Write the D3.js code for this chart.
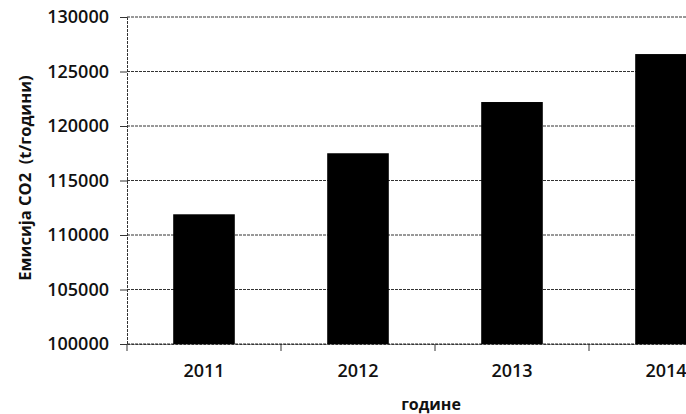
<!DOCTYPE html>
<html>
<head>
<meta charset="utf-8">
<script src="https://cdn.jsdelivr.net/npm/d3@7"></script>
<style>
  html, body { margin: 0; padding: 0; background: #fff; }
  svg { display: block; }
  text { font-family: "Open Sans", "DejaVu Sans", sans-serif; fill: #111; }
</style>
</head>
<body>
<svg id="chart" width="686" height="414"></svg>
<script>
const categories = ["2011", "2012", "2013", "2014"];
const values = [111900, 117500, 122200, 126600];
const yTicks = [100000, 105000, 110000, 115000, 120000, 125000, 130000];
const yTitle = "Емисија CO2  (t/години)";
const xTitle = "године";

(function () {
const svg = d3.select("#chart");
const mLeft = 127, mTop = 17, mBottom = 344, mRight = 743;

const x = d3.scaleBand().domain(categories).range([mLeft, mRight]).paddingInner(0.6).paddingOuter(0.3);
const y = d3.scaleLinear().domain([100000, 130000]).range([mBottom, mTop]);

// gridlines
svg.append("g").selectAll("line").data(yTicks).join("line")
  .attr("x1", mLeft).attr("x2", mRight)
  .attr("y1", d => y(d)).attr("y2", d => y(d))
  .attr("stroke", "#333").attr("stroke-width", 1)
  .attr("stroke-dasharray", "3,1");

// bars
svg.append("g").selectAll("rect").data(categories).join("rect")
  .attr("x", d => x(d))
  .attr("width", x.bandwidth())
  .attr("y", (d, i) => y(values[i]))
  .attr("height", (d, i) => mBottom - y(values[i]))
  .attr("fill", "#000");

// y axis
const yAxis = d3.axisLeft(y).tickValues(yTicks).tickSize(7).tickPadding(11).tickFormat(d3.format("d"));
const gy = svg.append("g").attr("transform", `translate(${mLeft},0)`).call(yAxis);
gy.select(".domain").attr("stroke", "#333").attr("stroke-dasharray", "3,1");
gy.selectAll(".tick line").attr("stroke", "#333");
gy.selectAll("text").style("font-size", "18px").style("font-weight", "600").attr("fill", "#111");

// x axis
const xAxis = d3.axisBottom(x).tickSize(0).tickPadding(20);
const gx = svg.append("g").attr("transform", `translate(0,${mBottom})`).call(xAxis);
gx.select(".domain").attr("stroke", "#333").attr("stroke-dasharray", "3,1");
gx.selectAll("text").style("font-size", "18px").style("font-weight", "600").attr("fill", "#111");

// category boundary ticks
const bounds = d3.range(categories.length + 1).map(i => mLeft + i * x.step());
svg.append("g").selectAll("line").data(bounds).join("line")
  .attr("x1", d => d).attr("x2", d => d)
  .attr("y1", mBottom).attr("y2", mBottom + 7)
  .attr("stroke", "#333");

// axis titles
svg.append("text")
  .attr("transform", `translate(31,178) rotate(-90)`)
  .attr("text-anchor", "middle")
  .style("font-size", "16.5px").style("font-weight", "700")
  .style("white-space", "pre")
  .text(yTitle);

svg.append("text")
  .attr("x", (mLeft + mRight) / 2 - 4).attr("y", 410)
  .attr("text-anchor", "middle")
  .style("font-size", "16px").style("font-weight", "700")
  .text(xTitle);
})();
</script>
</body>
</html>
